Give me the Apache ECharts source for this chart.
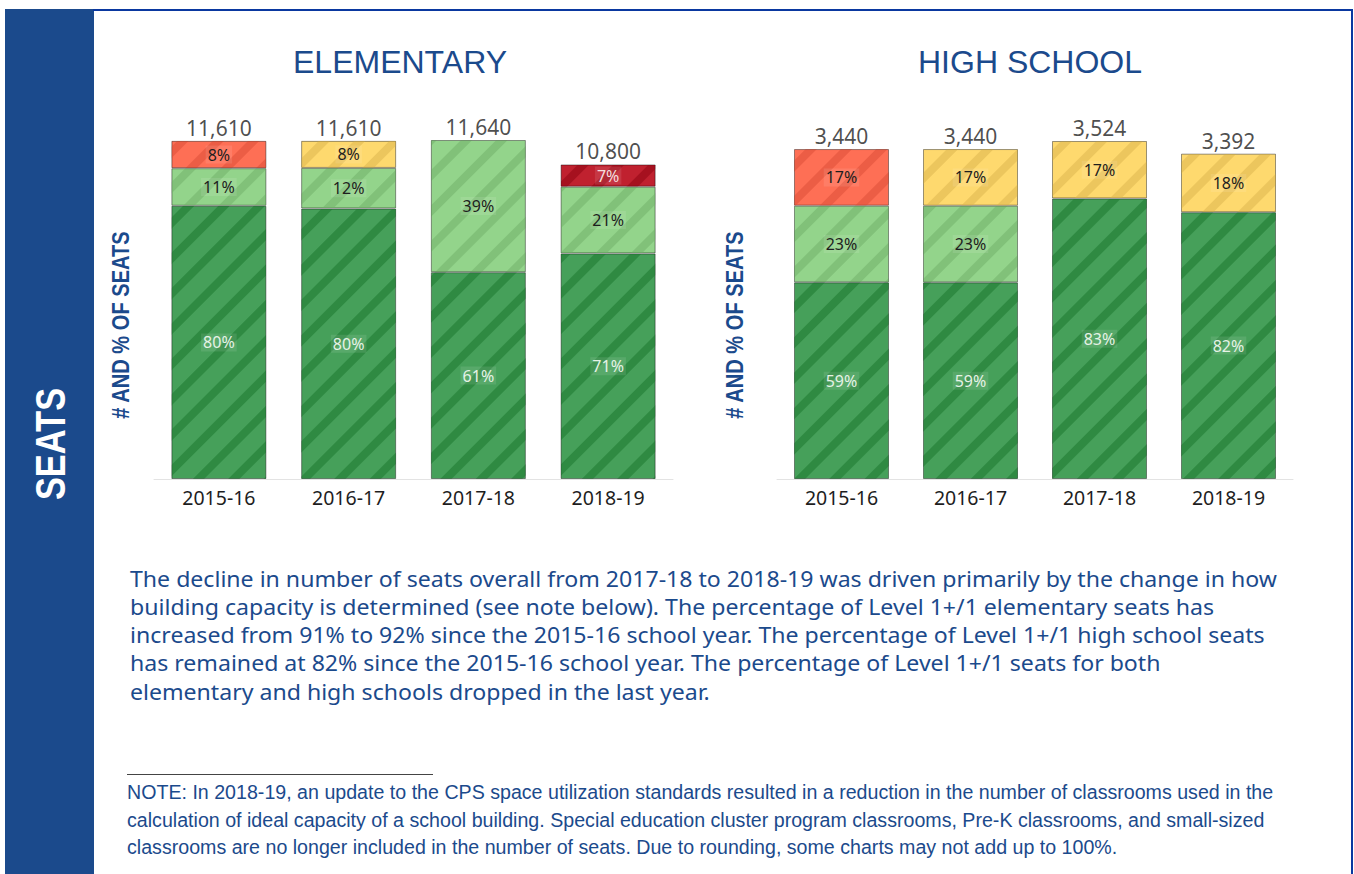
<!DOCTYPE html>
<html>
<head>
<meta charset="utf-8">
<script src="https://cdn.jsdelivr.net/npm/echarts@6/dist/echarts.min.js"></script>
<style>
html,body{margin:0;padding:0;background:#fff;}
#chart{width:1354px;height:874px;}
</style>
</head>
<body>
<div id="chart"></div>
<script>
// ---------- DATA ----------
var years = ['2015-16', '2016-17', '2017-18', '2018-19'];

var elemTotals = [11610, 11610, 11640, 10800];
var elemDarkGreenPct = [80, 80, 61, 71];
var elemLightGreenPct = [11, 12, 39, 21];
var elemYellowPct = [null, 8, null, null];
var elemOrangePct = [8, null, null, null];
var elemDarkRedPct = [null, null, null, 7];

var hsTotals = [3440, 3440, 3524, 3392];
var hsDarkGreenPct = [59, 59, 83, 82];
var hsLightGreenPct = [23, 23, null, null];
var hsYellowPct = [null, 17, 17, 18];
var hsOrangePct = [17, null, null, null];
var hsDarkRedPct = [null, null, null, null];

var titles = ['ELEMENTARY', 'HIGH SCHOOL'];
var yAxisName = '# AND % OF SEATS';
var sideLabel = 'SEATS';

var paragraphLines = [
  'The decline in number of seats overall from 2017-18 to 2018-19 was driven primarily by the change in how',
  'building capacity is determined (see note below). The percentage of Level 1+/1 elementary seats has',
  'increased from 91% to 92% since the 2015-16 school year. The percentage of Level 1+/1 high school seats',
  'has remained at 82% since the 2015-16 school year. The percentage of Level 1+/1 seats for both',
  'elementary and high schools dropped in the last year.'
];
var noteLines = [
  'NOTE: In 2018-19, an update to the CPS space utilization standards resulted in a reduction in the number of classrooms used in the',
  'calculation of ideal capacity of a school building. Special education cluster program classrooms, Pre-K classrooms, and small-sized',
  'classrooms are no longer included in the number of seats. Due to rounding, some charts may not add up to 100%.'
];

// ---------- STYLE ----------
var BLUE = '#1b4a8c';
var segStyles = [
  {key: 'darkGreen', fill: '#46a05a', stripe: '#2f8a42', text: '#e6f2e6'},
  {key: 'lightGreen', fill: '#93d48b', stripe: '#81c179', text: '#1e1e1e'},
  {key: 'yellow', fill: '#fed96e', stripe: '#ecc65d', text: '#1e1e1e'},
  {key: 'orange', fill: '#fe6f55', stripe: '#ec5d45', text: '#1e1e1e'},
  {key: 'darkRed', fill: '#c0212f', stripe: '#a6111f', text: '#f4dede'}
];

function buildSeries(pctArrays, totals, axisIdx) {
  var sums = totals.map(function (t, i) {
    var s = 0;
    pctArrays.forEach(function (a) { if (a[i] != null) s += a[i]; });
    return s;
  });
  var out = [];
  pctArrays.forEach(function (arr, k) {
    var st = segStyles[k];
    out.push({
      type: 'bar',
      name: st.key,
      stack: 'total' + axisIdx,
      xAxisIndex: axisIdx,
      yAxisIndex: axisIdx,
      barWidth: 95,
      data: arr.map(function (p, i) {
        return p == null ? '-' : {value: totals[i] * p / sums[i], pct: p};
      }),
      itemStyle: {
        color: st.fill,
        borderColor: 'rgba(0,0,0,0.22)',
        borderWidth: 1,
        decal: {
          symbol: 'rect',
          symbolSize: 1,
          color: st.stripe,
          dashArrayX: [1, 0],
          dashArrayY: [8, 17],
          rotation: -Math.PI / 4
        }
      },
      label: {
        show: true,
        position: 'inside',
        color: st.text,
        fontFamily: 'Noto Sans',
        fontSize: 16,
        backgroundColor: 'rgba(255,255,255,0.10)',
        padding: [1, 2],
        formatter: function (p) { return p.data && p.data.pct != null ? p.data.pct + '%' : ''; }
      }
    });
  });
  out.push({
    type: 'scatter',
    xAxisIndex: axisIdx,
    yAxisIndex: axisIdx,
    symbolSize: 1,
    itemStyle: {color: 'rgba(0,0,0,0)'},
    data: totals,
    z: 5,
    label: {
      show: true,
      position: 'top',
      distance: 2,
      color: '#1e1e1e',
      fontFamily: 'Noto Sans',
      fontSize: 21,
      formatter: function (p) { return p.value.toLocaleString('en-US'); }
    }
  });
  return out;
}

var series = buildSeries([elemDarkGreenPct, elemLightGreenPct, elemYellowPct, elemOrangePct, elemDarkRedPct], elemTotals, 0)
  .concat(buildSeries([hsDarkGreenPct, hsLightGreenPct, hsYellowPct, hsOrangePct, hsDarkRedPct], hsTotals, 1));

function xAxisDef(idx) {
  return {
    type: 'category', gridIndex: idx, data: years,
    axisLine: {lineStyle: {color: '#e3e3e3', width: 1}},
    axisTick: {show: false},
    axisLabel: {color: '#1e1e1e', fontFamily: 'Noto Sans', fontSize: 19.5, margin: 8}
  };
}
function yAxisDef(idx) {
  return {type: 'value', gridIndex: idx, min: 0, max: 'dataMax', show: false, splitLine: {show: false}};
}

var NARROW = 0.82;
var graphics = [
  {type: 'rect', shape: {x: 5, y: 9, width: 89, height: 865}, style: {fill: BLUE}, silent: true},
  {type: 'rect', shape: {x: 93, y: 9, width: 1260, height: 2}, style: {fill: '#0a38a0'}, silent: true},
  {type: 'rect', shape: {x: 1351, y: 9, width: 2, height: 865}, style: {fill: '#0a38a0'}, silent: true},
  {type: 'text', x: 50, y: 444, rotation: Math.PI / 2, scaleX: NARROW,
   style: {text: sideLabel, fill: '#ffffff', font: 'bold 42px "Liberation Sans"', textAlign: 'center', textVerticalAlign: 'middle'}},
  {type: 'text', x: 400, y: 62,
   style: {text: titles[0], fill: BLUE, font: '32px "Liberation Sans"', textAlign: 'center', textVerticalAlign: 'middle'}},
  {type: 'text', x: 1030, y: 62,
   style: {text: titles[1], fill: BLUE, font: '32px "Liberation Sans"', textAlign: 'center', textVerticalAlign: 'middle'}},
  {type: 'text', x: 121, y: 325, rotation: Math.PI / 2, scaleX: NARROW,
   style: {text: yAxisName, fill: BLUE, font: 'bold 24.5px "Liberation Sans"', textAlign: 'center', textVerticalAlign: 'middle'}},
  {type: 'text', x: 735, y: 325, rotation: Math.PI / 2, scaleX: NARROW,
   style: {text: yAxisName, fill: BLUE, font: 'bold 24.5px "Liberation Sans"', textAlign: 'center', textVerticalAlign: 'middle'}},
  {type: 'rect', shape: {x: 127, y: 774, width: 306, height: 1}, style: {fill: '#444'}, silent: true}
];
var paraY = [578, 606, 634, 662, 691];
paragraphLines.forEach(function (t, i) {
  graphics.push({type: 'text', x: 130, y: paraY[i], scaleX: 1.1,
    style: {text: t, fill: BLUE, font: '21px "Noto Sans"', textAlign: 'left', textVerticalAlign: 'middle'}});
});
var noteY = [792, 820, 847];
noteLines.forEach(function (t, i) {
  graphics.push({type: 'text', x: 127, y: noteY[i], scaleX: 0.935,
    style: {text: t, fill: BLUE, font: '21px "Liberation Sans"', textAlign: 'left', textVerticalAlign: 'middle'}});
});

var chart = echarts.init(document.getElementById('chart'), null, {renderer: 'svg'});
chart.setOption({
  animation: false,
  backgroundColor: '#ffffff',
  grid: [
    {left: 154, width: 519, top: 140, bottom: 395},
    {left: 777, width: 516, top: 141, bottom: 395}
  ],
  xAxis: [xAxisDef(0), xAxisDef(1)],
  yAxis: [yAxisDef(0), yAxisDef(1)],
  series: series,
  graphic: graphics
});
</script>
</body>
</html>
